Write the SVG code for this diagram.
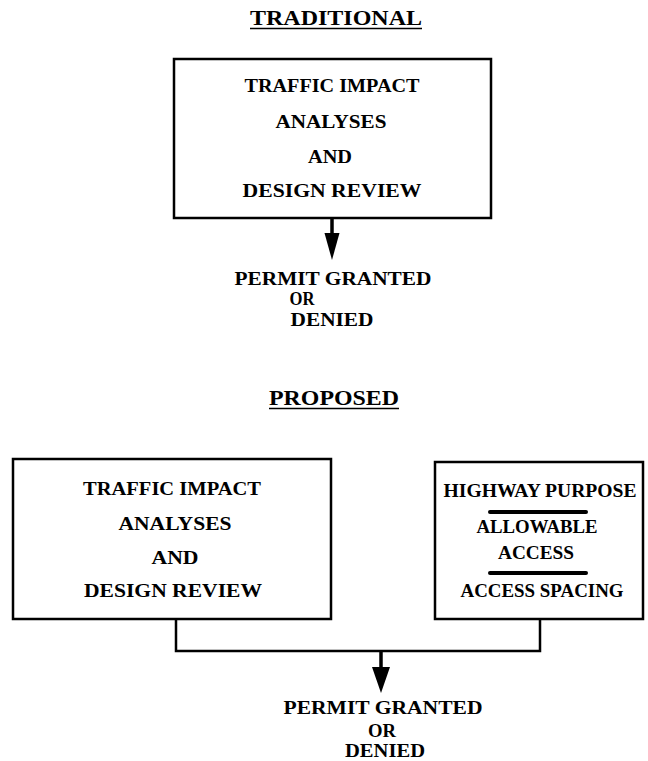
<svg xmlns="http://www.w3.org/2000/svg" width="648" height="761" viewBox="0 0 648 761">
  <defs>
    <style>
      .t { font-family: "Liberation Serif", "Times New Roman", serif; font-weight: bold; font-size: 18px; fill: #000; text-anchor: middle; }
      .h { font-size: 20px; }
      .box { fill: none; stroke: #000; stroke-width: 2.5; }
      .wire { fill: none; stroke: #000; stroke-width: 2.5; }
      .shaft { stroke: #000; stroke-width: 3.5; }
      .rule { stroke: #000; stroke-width: 1.6; }
      .bar { stroke: #000; stroke-width: 4; stroke-linecap: round; }
    </style>
  </defs>
  <rect width="648" height="761" fill="#fff"/>

  <!-- upper heading -->
  <g id="title-traditional">
    <text class="t h" x="336" y="25" textLength="172" lengthAdjust="spacingAndGlyphs">TRADITIONAL</text>
    <line class="rule" x1="250" y1="28.5" x2="422" y2="28.5"/>
  </g>

  <g id="review-traditional">
    <rect class="box" x="174" y="59" width="317" height="159"/>
    <text class="t" x="332" y="92" textLength="175" lengthAdjust="spacingAndGlyphs">TRAFFIC IMPACT</text>
    <text class="t" x="331" y="128" textLength="111" lengthAdjust="spacingAndGlyphs">ANALYSES</text>
    <text class="t" x="330" y="163" textLength="44" lengthAdjust="spacingAndGlyphs">AND</text>
    <text class="t" x="332" y="197" textLength="179" lengthAdjust="spacingAndGlyphs">DESIGN REVIEW</text>
  </g>

  <g id="result-traditional">
    <text class="t" x="333" y="285" textLength="197" lengthAdjust="spacingAndGlyphs">PERMIT GRANTED</text>
    <text class="t" x="302" y="305" textLength="25" lengthAdjust="spacingAndGlyphs">OR</text>
    <text class="t" x="332" y="326" textLength="83" lengthAdjust="spacingAndGlyphs">DENIED</text>
  </g>

  <!-- lower heading -->
  <g id="title-proposed">
    <text class="t h" x="334" y="405" textLength="130" lengthAdjust="spacingAndGlyphs">PROPOSED</text>
    <line class="rule" x1="269" y1="408.5" x2="399" y2="408.5"/>
  </g>

  <g id="review-proposed">
    <rect class="box" x="13" y="459" width="318" height="160"/>
    <text class="t" x="172" y="495" textLength="178" lengthAdjust="spacingAndGlyphs">TRAFFIC IMPACT</text>
    <text class="t" x="175" y="530" textLength="113" lengthAdjust="spacingAndGlyphs">ANALYSES</text>
    <text class="t" x="175" y="564" textLength="47" lengthAdjust="spacingAndGlyphs">AND</text>
    <text class="t" x="173" y="597" textLength="178" lengthAdjust="spacingAndGlyphs">DESIGN REVIEW</text>
  </g>

  <g id="access-criteria">
    <rect class="box" x="435" y="462" width="208" height="157"/>
    <text class="t" x="540" y="497" textLength="193" lengthAdjust="spacingAndGlyphs">HIGHWAY PURPOSE</text>
    <line class="bar" x1="490" y1="512" x2="586" y2="512"/>
    <text class="t" x="537" y="533" textLength="121" lengthAdjust="spacingAndGlyphs">ALLOWABLE</text>
    <text class="t" x="536" y="559" textLength="76" lengthAdjust="spacingAndGlyphs">ACCESS</text>
    <line class="bar" x1="490" y1="573" x2="586" y2="573"/>
    <text class="t" x="542" y="597" textLength="163" lengthAdjust="spacingAndGlyphs">ACCESS SPACING</text>
  </g>

  <g id="result-proposed">
    <text class="t" x="383" y="714" textLength="199" lengthAdjust="spacingAndGlyphs">PERMIT GRANTED</text>
    <text class="t" x="382" y="737" textLength="28" lengthAdjust="spacingAndGlyphs">OR</text>
    <text class="t" x="385" y="757" textLength="80" lengthAdjust="spacingAndGlyphs">DENIED</text>
  </g>

  <!-- connectors -->
  <g id="connectors">
    <line class="shaft" x1="332" y1="218" x2="332" y2="236"/>
    <polygon points="324.5,233 339.5,233 332,260"/>
    <polyline class="wire" points="176,619 176,651 540,651 540,619"/>
    <line class="shaft" x1="381" y1="651" x2="381" y2="670"/>
    <polygon points="372,667 390,667 381,693"/>
  </g>
</svg>
